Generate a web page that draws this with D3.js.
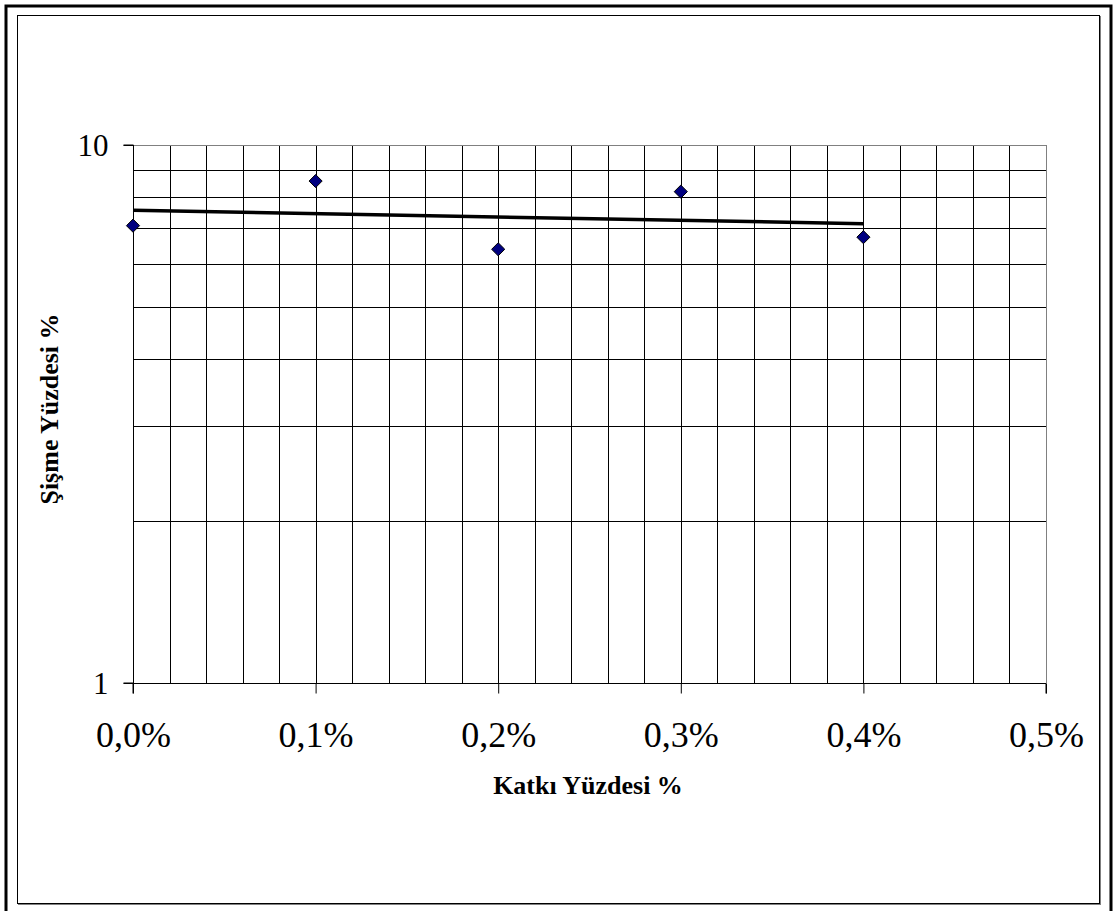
<!DOCTYPE html>
<html>
<head>
<meta charset="utf-8">
<script src="https://cdn.jsdelivr.net/npm/d3@7"></script>
<style>
  html, body { margin: 0; padding: 0; background: #fff; }
  svg { display: block; }
</style>
</head>
<body>
<svg id="chart" width="1114" height="911"></svg>
<script>
// ---- data ----
const katki = [0.000, 0.001, 0.002, 0.003, 0.004];      // Katkı Yüzdesi (fraction)
const sisme = [7.08, 8.57, 6.40, 8.19, 6.74];            // Şişme Yüzdesi %
const xTicks = [0, 0.001, 0.002, 0.003, 0.004, 0.005];
const xGrid = d3.range(0, 26).map(i => i * 0.0002);
const yTicks = [1, 10];
const yGrid = [2, 3, 4, 5, 6, 7, 8, 9];
const xTitle = "Katkı Yüzdesi %";
const yTitle = "Şişme Yüzdesi %";

const svg = d3.select("#chart");
const font = "'Liberation Serif', 'Times New Roman', serif";

// outer frame
svg.append("path").attr("d", "M6,911 V6 H1111 V911")
  .attr("fill", "none").attr("stroke", "#000").attr("stroke-width", 3);
// inner chart area with shadow
svg.append("rect").attr("x", 18.5).attr("y", 16.5).attr("width", 1082).attr("height", 888)
  .attr("fill", "none").attr("stroke", "#808080").attr("stroke-width", 1);
svg.append("rect").attr("x", 17.5).attr("y", 15.5).attr("width", 1082).attr("height", 888)
  .attr("fill", "#fff").attr("stroke", "#000").attr("stroke-width", 1);

const L = 133, R = 1046, T = 145, B = 683;
const x = d3.scaleLinear().domain([0, 0.005]).range([L, R]);
const y = d3.scaleLog().domain([1, 10]).range([B, T]);

const g = svg.append("g");

// grid
g.selectAll("line.vg").data(xGrid).join("line")
  .attr("x1", d => Math.round(x(d)) + 0.5).attr("x2", d => Math.round(x(d)) + 0.5)
  .attr("y1", T).attr("y2", B)
  .attr("stroke", d => (Math.abs(d - 0.005) < 1e-9) ? "#808080" : "#000").attr("stroke-width", 1);
g.selectAll("line.hg").data(yGrid.concat([10])).join("line")
  .attr("x1", L).attr("x2", R)
  .attr("y1", d => Math.round(y(d)) + 0.5).attr("y2", d => Math.round(y(d)) + 0.5)
  .attr("stroke", d => d === 10 ? "#808080" : "#000").attr("stroke-width", 1);

// axes
const xAxis = d3.axisBottom(x).tickValues(xTicks).tickSize(10)
  .tickFormat(d => d3.format(".1%")(d).replace(".", ","));
const ya = d3.axisLeft(y).tickValues(yTicks).tickSize(10).tickFormat(d3.format("d"));

const gx = svg.append("g").attr("transform", `translate(0,${Math.round(B) + 0.5})`).call(xAxis);
gx.select(".domain").attr("d", `M${L},10V0H${R}V10`).attr("stroke", "#000");
gx.selectAll(".tick line").attr("stroke", "#000");
gx.selectAll(".tick text").attr("font-family", font).attr("font-size", 36)
  .attr("fill", "#000").attr("y", 63).attr("dy", 0);

const gy = svg.append("g").attr("transform", `translate(${L + 0.5},0)`).call(ya);
gy.select(".domain").attr("d", `M-10,${T}H0V${B}H-10`).attr("stroke", "#000");
gy.selectAll(".tick line").attr("stroke", "#000");
gy.selectAll(".tick text").attr("font-family", font).attr("font-size", 31)
  .attr("fill", "#000").attr("x", -25).attr("dy", "0.33em");

// exponential trendline (least squares on ln y)
const n = katki.length;
const mx = d3.mean(katki), ml = d3.mean(sisme, v => Math.log(v));
const b = d3.sum(katki, (xi, i) => (xi - mx) * (Math.log(sisme[i]) - ml)) /
          d3.sum(katki, xi => (xi - mx) * (xi - mx));
const a = ml - b * mx;
const tx = [katki[0], katki[n - 1]];
svg.append("path")
  .attr("d", d3.line().x(d => x(d)).y(d => y(Math.exp(a + b * d)))(tx))
  .attr("fill", "none").attr("stroke", "#000").attr("stroke-width", 3.5);

// markers
svg.selectAll("path.pt").data(katki).join("path")
  .attr("class", "pt")
  .attr("transform", (d, i) => `translate(${x(d)},${y(sisme[i])})`)
  .attr("d", d3.symbol().type(d3.symbolDiamond2).size(110))
  .attr("fill", "#000080").attr("stroke", "#000").attr("stroke-width", 1);

// titles
svg.append("text").attr("x", 588).attr("y", 794)
  .attr("text-anchor", "middle").attr("font-family", font).attr("font-weight", "bold")
  .attr("font-size", 26).text(xTitle);
svg.append("text").attr("transform", `translate(58,409) rotate(-90)`)
  .attr("text-anchor", "middle").attr("font-family", font).attr("font-weight", "bold")
  .attr("font-size", 26).text(yTitle);
</script>
</body>
</html>
